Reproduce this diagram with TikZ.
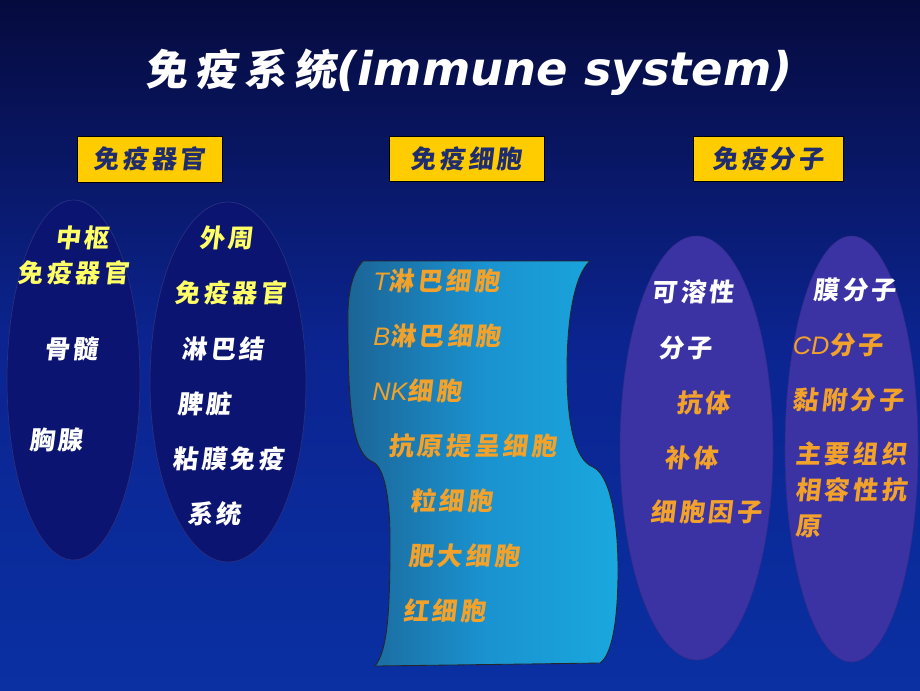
\documentclass[tikz,border=0pt]{standalone}
\usepackage{fontspec}
\setmainfont{Liberation Sans}
\newfontfamily\cjk{Noto Sans CJK SC}[FakeSlant=0.12, LetterSpace=13]
\newfontfamily\cjktitle{Noto Sans CJK SC}[FakeSlant=0.12, LetterSpace=18]
\newfontfamily\lattitle{DejaVu Sans}
\newcommand{\lat}[1]{{\rmfamily\mdseries\itshape #1}}
\usetikzlibrary{positioning, shapes.geometric}

\definecolor{bgtop}{HTML}{060B3E}
\definecolor{bgmid}{HTML}{0B2490}
\definecolor{bgbot}{HTML}{0A30A2}
\definecolor{organfill}{HTML}{0B1470}
\definecolor{molfill}{HTML}{3B33A3}
\definecolor{boxgold}{HTML}{FFCC00}
\definecolor{boxtext}{HTML}{1F2C6E}
\definecolor{lightyellow}{HTML}{FFFF66}
\definecolor{orangetext}{HTML}{F2A22A}
\definecolor{bandleft}{HTML}{1C6496}
\definecolor{bandmid}{HTML}{1A92CF}
\definecolor{bandright}{HTML}{1AA8DE}

\begin{document}
\begin{tikzpicture}[x=0.25mm, y=-0.25mm,
		organ/.style={ellipse, draw=organfill!88!white, line width=0.5pt, fill=organfill, inner sep=0pt},
		molecule/.style={ellipse, draw=molfill!85!black, fill=molfill, inner sep=0pt},
		headbox/.style={rectangle, draw=black, fill=boxgold, text=boxtext, inner sep=0pt, font=\cjk\bfseries\fontsize{18}{20}\selectfont},
		cn/.style={inner sep=0pt, font=\cjk\bfseries\fontsize{18}{20}\selectfont},
		yel/.style={cn, text=lightyellow},
		wht/.style={cn, text=white},
		org/.style={cn, text=orangetext},
		band/.style={draw=black!85, line width=0.6pt, left color=bandleft, right color=bandright, middle color=bandmid}
	]

	% background
	\useasboundingbox (0,0) rectangle (920,690);
	\fill[top color=bgtop, bottom color=bgbot, middle color=bgmid] (0,0) rectangle (920,690);

	\node[anchor=west, text=white, inner sep=0pt] (title) at (145,72)
		{{\cjktitle\bfseries\fontsize{30}{36}\selectfont 免疫系统}{\lattitle\bfseries\itshape\fontsize{33}{36}\selectfont (immune system)}};

	\node[headbox, minimum width=36.25mm, minimum height=11.5mm] (organs) at (149.5,159) {免疫器官};
	\node[headbox, minimum width=38.75mm, minimum height=11.25mm] (cells) at (466.5,158.5) {免疫细胞};
	\node[headbox, minimum width=37.5mm, minimum height=11.25mm] (molecules) at (768,158.5) {免疫分子};

	\node[organ, minimum width=33.25mm, minimum height=90mm] (central) at (73.5,380) {};
	\node[organ, minimum width=39mm, minimum height=90mm] (periph) at (228,382) {};
	\node[molecule, minimum width=38.25mm, minimum height=106mm] (soluble) at (696.5,448) {};
	\node[molecule, minimum width=33.25mm, minimum height=106.5mm] (membrane) at (851.5,449) {};

	\path[band] (363,261) -- (590,261)
		.. controls (574,275) and (567,320) .. (567,370)
		.. controls (567,425) and (575,460) .. (593,467)
		.. controls (610,475) and (618,520) .. (618,570)
		.. controls (618,620) and (612,655) .. (600,663) -- (375,666)
		.. controls (388,650) and (390,610) .. (390,540)
		.. controls (390,500) and (385,468) .. (373,462)
		.. controls (355,455) and (348,420) .. (348,330)
		.. controls (347,300) and (350,275) .. (363,261) -- cycle;

	% organs
	\node[yel] (cen1) at (82,238) {中枢};
	\node[yel] (cen2) at (73,273) {免疫器官};
	\node[wht] (marrow) at (71,349) {骨髓};
	\node[wht] (thymus) at (56,440) {胸腺};
	\node[yel] (per1) at (226,238) {外周};
	\node[yel] (per2) at (230,293) {免疫器官};
	\foreach \nm/\x/\y/\t in {lymph/223/349/淋巴结, spleen/204/404/脾脏, mucosa/228/459/粘膜免疫, system/214/514/系统}
		\node[wht] (\nm) at (\x,\y) {\t};

	% cells
	\foreach \nm/\x/\y/\t in {tcell/373/281/{\lat{T}淋巴细胞}, bcell/373/336/{\lat{B}淋巴细胞}, nkcell/372/391/{\lat{NK}细胞},
		apc/388/446/抗原提呈细胞, granulo/410/501/粒细胞, mast/408/556/肥大细胞, rbc/403/611/红细胞}
		\node[org, anchor=west] (\nm) at (\x,\y) {\t};

	% molecules
	\node[wht] (sol1) at (693,292) {可溶性};
	\node[wht] (sol2) at (685,348) {分子};
	\foreach \nm/\x/\y/\t in {antibody/703/403/抗体, complement/691/458/补体, cytokine/706/512/细胞因子}
		\node[org] (\nm) at (\x,\y) {\t};
	\node[wht] (mem1) at (855,290) {膜分子};
	\node[org] (cdmol) at (838,345) {\lat{CD}分子};
	\node[org] (adhesion) at (848,400) {黏附分子};
	\node[org, anchor=north west, align=left, font=\cjk\bfseries\fontsize{18}{25.6}\selectfont] (mhc) at (795,441) {主要组织\\相容性抗\\原};

\end{tikzpicture}
\end{document}
